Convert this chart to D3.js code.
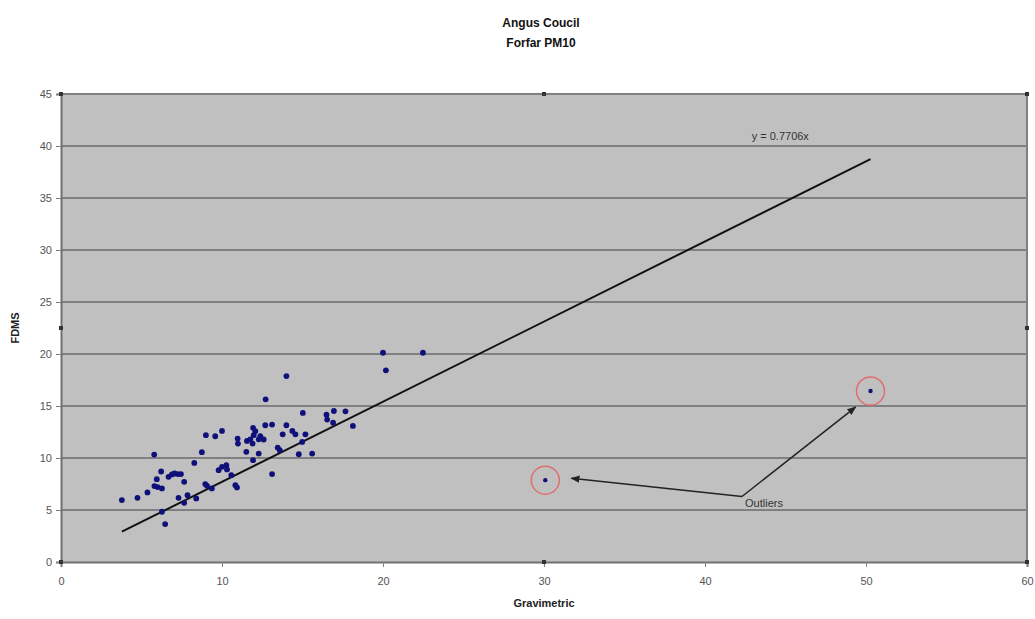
<!DOCTYPE html>
<html><head><meta charset="utf-8">
<script src="https://cdn.jsdelivr.net/npm/d3@7"></script>
<style>
html,body{margin:0;padding:0;background:#fff;}
svg{display:block;font-family:"Liberation Sans",Arial,sans-serif;}
</style></head>
<body>
<svg id="chart" width="1035" height="619"></svg>
<script>
// ---- data ----
const gravimetric = [3.78,4.75,5.37,5.79,5.95,5.8,6.0,6.27,6.22,6.27,6.47,6.68,6.89,7.05,7.26,7.45,7.65,7.3,7.65,7.86,8.4,8.28,8.75,
  9.0,8.96,9.07,9.37,9.58,10.0,9.79,10.0,10.27,10.31,10.58,10.83,10.93,10.97,10.99,11.55,11.76,11.93,12.07,11.97,12.38,12.59,12.28,
  12.69,13.11,14.0,13.77,14.37,14.56,15.18,14.98,11.9,11.51,12.28,13.46,13.59,14.77,15.6,11.93,13.11,12.71,14.0,15.02,16.49,16.53,
  16.95,17.67,16.9,18.13,20.0,22.48,20.18,30.08,50.28];
const fdms = [5.95,6.17,6.69,10.33,7.96,7.3,7.2,7.07,8.7,4.83,3.65,8.19,8.42,8.51,8.45,8.45,7.71,6.17,5.69,6.43,6.11,9.53,10.56,
  12.19,7.49,7.32,7.07,12.09,12.6,8.83,9.15,9.31,8.9,8.35,7.39,7.17,11.87,11.39,11.64,11.8,12.9,12.57,12.19,12.09,11.78,11.8,
  13.15,13.21,13.15,12.28,12.6,12.28,12.28,11.55,11.39,10.59,10.43,11.0,10.75,10.36,10.43,9.79,8.45,15.64,17.88,14.33,14.17,13.69,
  14.52,14.49,13.4,13.08,20.12,20.12,18.43,7.87,16.44];
const outlierIdx = [75, 76];
const slope = 0.7706;
const trendRange = [3.78, 50.28];
const xTicks = [0,10,20,30,40,50,60];
const yTicks = [0,5,10,15,20,25,30,35,40,45];
const titleLines = ["Angus Coucil", "Forfar PM10"];
const xTitle = "Gravimetric";
const yTitle = "FDMS";
const trendLabel = "y = 0.7706x";
const trendLabelPos = [42.9, 40.6];
const outlierLabel = "Outliers";
const outlierLabelPos = [42.3, 6.3];
const arrowHeads = [[31.7, 8.05], [49.35, 14.9]];

// ---- chart ----
const svg = d3.select("#chart");
const x = d3.scaleLinear().domain([0,60]).range([61,1027]);
const y = d3.scaleLinear().domain([0,45]).range([562,94]);

svg.append("defs").append("marker")
  .attr("id","arr").attr("viewBox","0 0 10 10").attr("refX",9).attr("refY",5)
  .attr("markerWidth",6).attr("markerHeight",6).attr("orient","auto-start-reverse")
  .append("path").attr("d","M0,1 L10,5 L0,9 z").attr("fill","#222");

// plot area
svg.append("rect").attr("x",x(0)).attr("y",y(45)).attr("width",x(60)-x(0)).attr("height",y(0)-y(45))
  .attr("fill","#c0c0c0");

// gridlines
svg.append("g").selectAll("line").data(yTicks.filter(d=>d>0)).join("line")
  .attr("x1",x(0)).attr("x2",x(60)).attr("y1",d=>y(d)).attr("y2",d=>y(d))
  .attr("stroke","#808080").attr("stroke-width",2);
// right border
svg.append("line").attr("x1",x(60)).attr("x2",x(60)).attr("y1",y(45)).attr("y2",y(0))
  .attr("stroke","#808080").attr("stroke-width",2);

// axes
const yAxis = svg.append("g").attr("transform",`translate(${x(0)},0)`)
  .call(d3.axisLeft(y).tickValues(yTicks).tickSize(5).tickPadding(4));
const xAxis = svg.append("g").attr("transform",`translate(0,${y(0)})`)
  .call(d3.axisBottom(x).tickValues(xTicks).tickSize(5).tickPadding(10));
[xAxis,yAxis].forEach(g=>{
  g.select(".domain").attr("stroke","#707070").attr("stroke-width",2);
  g.selectAll(".tick line").attr("stroke","#808080");
  g.selectAll(".tick text").attr("fill","#555").attr("font-size",11).attr("font-family","Liberation Sans, Arial, sans-serif");
});

// selection handles
const handles = [[0,45],[30,45],[60,45],[0,22.5],[60,22.5],[0,0],[30,0],[60,0]];
svg.append("g").selectAll("rect").data(handles).join("rect")
  .attr("x",d=>x(d[0])-2).attr("y",d=>y(d[1])-2).attr("width",4).attr("height",4).attr("fill","#333");

// trendline
svg.append("line")
  .attr("x1",x(trendRange[0])).attr("y1",y(slope*trendRange[0]))
  .attr("x2",x(trendRange[1])).attr("y2",y(slope*trendRange[1]))
  .attr("stroke","#111").attr("stroke-width",2);
svg.append("text").attr("x",x(trendLabelPos[0])).attr("y",y(trendLabelPos[1])).attr("font-size",11).attr("fill","#333")
  .text(trendLabel);

// points
const pts = gravimetric.map((g,i)=>({g, f:fdms[i], out: outlierIdx.includes(i)}));
svg.append("g").selectAll("circle").data(pts).join("circle")
  .attr("cx",d=>x(d.g)).attr("cy",d=>y(d.f)).attr("r",d=>d.out?2.2:2.9).attr("fill","#10107a");

// outlier rings
svg.append("g").selectAll("circle").data(pts.filter(d=>d.out)).join("circle")
  .attr("cx",d=>x(d.g)).attr("cy",d=>y(d.f)).attr("r",14).attr("fill","none")
  .attr("stroke","#e07070").attr("stroke-width",1.5);

// arrows
svg.append("g").selectAll("line").data(arrowHeads).join("line")
  .attr("x1",x(outlierLabelPos[0])).attr("y1",y(outlierLabelPos[1]))
  .attr("x2",d=>x(d[0])).attr("y2",d=>y(d[1]))
  .attr("stroke","#222").attr("stroke-width",1.5).attr("marker-end","url(#arr)");
svg.append("text").attr("x",x(outlierLabelPos[0])+3).attr("y",y(outlierLabelPos[1])+11)
  .attr("font-size",11).attr("fill","#333").text(outlierLabel);

// titles
svg.append("g").selectAll("text").data(titleLines).join("text")
  .attr("x",541).attr("y",(d,i)=>27+i*20).attr("text-anchor","middle")
  .attr("font-size",12).attr("font-weight","bold").attr("fill","#111").text(d=>d);
svg.append("text").attr("x",(x(0)+x(60))/2).attr("y",607).attr("text-anchor","middle")
  .attr("font-size",11).attr("font-weight","bold").attr("fill","#222").text(xTitle);
svg.append("text").attr("transform",`translate(19,${(y(0)+y(45))/2}) rotate(-90)`).attr("text-anchor","middle")
  .attr("font-size",11).attr("font-weight","bold").attr("fill","#222").text(yTitle);
</script>
</body></html>
